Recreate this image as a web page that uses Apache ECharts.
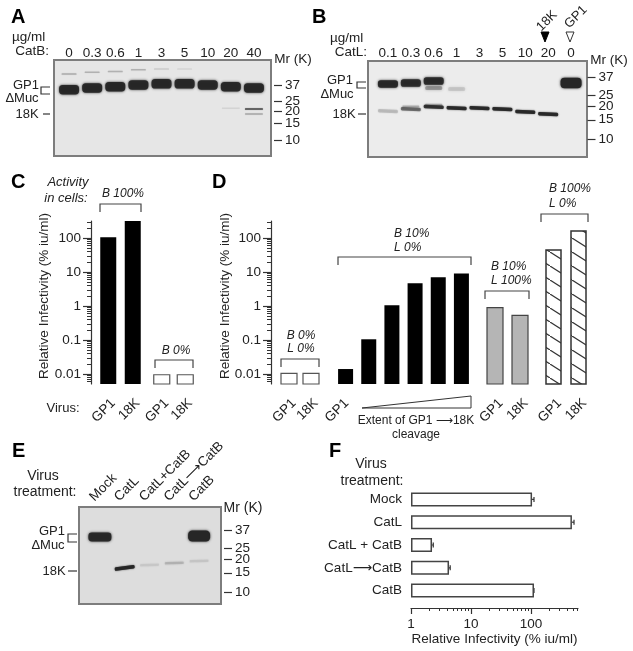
<!DOCTYPE html>
<html><head><meta charset="utf-8">
<style>html,body{margin:0;padding:0;background:#fff}#c{width:633px;height:651px}</style>
<script src="https://cdn.jsdelivr.net/npm/echarts@6/dist/echarts.min.js"></script>
</head><body><div id="c"></div>
<script>
// ---------- data ----------
const lanesA = ['0','0.3','0.6','1','3','5','10','20','40'];
const gp1MrA = [33,34.5,35.5,37,38,38,37,35.5,34.5];
const upperMrA = [48,50,51,53,54,54];
const upperIntA = [.18,.16,.16,.16,.08,.04];
const lowerBandsA = [[8,20.9,.6],[8,18.6,.2],[7,21.3,.05]];
const mrTicks = [37,25,20,15,10];

const lanesB = ['0.1','0.3','0.6','1','3','5','10','20','0'];
const gp1BandsB = [[0,32,.95],[1,32.6,.9],[2,34,.9]];
const gp1UncutB = [[8,32.6,1]];
const gp1WeakB = [[2,29.3,.3],[3,28.7,.12]];
const k18MrB = [18,18.8,19.7,19.2,19.2,18.8,17.7,16.9];
const k18IntB = [.14,.45,.8,.9,.9,.9,.9,.9];
const k18UpperB = [[1,19.9,.2],[2,20.6,.2]];

const lanesE = ['Mock','CatL','CatL+CatB','CatL\u27f6CatB','CatB'];
const gp1BandsE = [[0,31.9,.95]];
const gp1UncutE = [[4,32.6,1]];
const k18BandE = [[1,16.6,.95]];
const k18FaintE = [[2,17.7,.07],[3,18.4,.14],[4,19.2,.08]];

const groupC1 = ['GP1','18K'], valsC1 = [105,316];
const groupC2 = ['GP1','18K'], valsC2 = [0.0095,0.0095];
const groupD1 = ['GP1','18K'], valsD1 = [0.0105,0.0105];
const groupD2 = ['GP1','','','','',''], valsD2 = [0.014,0.105,1.05,4.7,7,9];
const groupD3 = ['GP1','18K'], valsD3 = [0.9,0.53];
const groupD4 = ['GP1','18K'], valsD4 = [44,160];
const logTicks = [0.01,0.1,1,10,100];
const logMinor = [0.006,0.007,0.008,0.009,0.02,0.03,0.04,0.05,0.06,0.07,0.08,0.09,0.2,0.3,0.4,0.5,0.6,0.7,0.8,0.9,2,3,4,5,6,7,8,9,20,30,40,50,60,70,80,90,200,300];

const treatF = ['Mock','CatL','CatL + CatB','CatL\u27f6CatB','CatB'];
const valsF = [104,480,2.24,4.3,112];
const errF = [112,520,2.35,4.5,112];
const xTicksF = [1,10,100];
const xMinorF = [2,3,4,5,6,7,8,9,20,30,40,50,60,70,80,90,200,300,400,500,600];

// ---------- helpers ----------
const FONT = '"Liberation Sans", Arial, "DejaVu Sans", sans-serif';
const TXT = '#222';
const grid=[],xAxis=[],yAxis=[],series=[],graphic=[];
function addGrid(l,t,w,h){grid.push({left:l,top:t,width:w,height:h,containLabel:false});return grid.length-1;}
function T(x,y,s,o={}){graphic.push({type:'text',x,y,rotation:o.rot||0,silent:true,style:{text:s,fill:o.fill||TXT,
  font:`${o.italic?'italic ':''}${o.bold?'bold ':''}${o.size||13}px ${FONT}`,align:o.align||'center',verticalAlign:'middle'}});}
function P(points,o={}){graphic.push({type:o.fillC?'polygon':'polyline',silent:true,shape:{points},
  style:{stroke:o.stroke||'#333',lineWidth:o.lw||1,fill:o.fillC||null}});}
function gel(x,y,w,h,bg){graphic.push({type:'rect',silent:true,shape:{x,y,width:w,height:h},style:{fill:bg,stroke:'#7d7d7d',lineWidth:2}});}
function bracket(x1,x2,y,leg){P([[x1,y+leg],[x1,y],[x2,y],[x2,y+leg]],{stroke:'#444',lw:1.2});}
function bands(g,xi,yi,data,w,h,rot,blur){
  series.push({type:'custom',coordinateSystem:'cartesian2d',xAxisIndex:xi,yAxisIndex:yi,clip:false,silent:true,z:3,
    data,encode:{x:0,y:1},renderItem(p,api){
      const c=api.coord([api.value(0),api.value(1)]);
      return {type:'rect',x:c[0],y:c[1],rotation:rot||0,shape:{x:-w/2,y:-h/2,width:w,height:h,r:h/2.6},
        style:{fill:'#262626',opacity:api.value(2),shadowBlur:blur==null?2.5:blur,shadowColor:'#262626'}};
    }});
}
function blot(l,t,w,h,lanes,minMr,maxMr,offset,showLabels){
  const g=addGrid(l,t,w,h);
  xAxis.push({type:'category',gridIndex:g,data:lanes,position:'top',axisLine:{show:false},axisTick:{show:false},
    axisLabel:{show:showLabels,fontFamily:FONT,fontSize:13.5,color:TXT,margin:t-60,interval:0}});
  yAxis.push({type:'log',gridIndex:g,position:'right',offset,min:minMr,max:maxMr,logBase:10,splitLine:{show:false},axisLine:{show:false},
    axisTick:{show:true,length:8,inside:false,customValues:mrTicks,lineStyle:{color:'#333',width:1.2}},
    axisLabel:{show:true,fontFamily:FONT,fontSize:13.5,color:TXT,margin:11,customValues:mrTicks,formatter:v=>String(Math.round(v))},
    minorTick:{show:false},minorSplitLine:{show:false}});
  return {g,xi:xAxis.length-1,yi:yAxis.length-1};
}
const LOGMIN=0.00508,LOGMAX=316.2;
// hatch tile for panel D
const tile=document.createElement('canvas');tile.width=22;tile.height=14;
(function(){const c=tile.getContext('2d');c.fillStyle='#fff';c.fillRect(0,0,22,14);c.strokeStyle='#333';c.lineWidth=1.2;
  c.beginPath();c.moveTo(-2,-1.27);c.lineTo(24,15.27);c.stroke();})();
function barGroup(l,w,names,vals,style,bw,labelDx,showAxis,axisOffset){
  const g=addGrid(l,221,w,163);
  xAxis.push({type:'category',gridIndex:g,data:names.map((n,i)=>i),axisLine:{show:false},axisTick:{show:false},axisLabel:{show:false}});
  const xi=xAxis.length-1;
  yAxis.push({type:'log',gridIndex:g,position:'left',offset:axisOffset||0,min:LOGMIN,max:LOGMAX,logBase:10,show:true,
    splitLine:{show:false},minorTick:{show:false},minorSplitLine:{show:false},
    axisLine:{show:!!showAxis,lineStyle:{color:'#333',width:1.2}},
    axisTick:{show:!!showAxis,length:8,customValues:logTicks,lineStyle:{color:'#333',width:1.2}},
    axisLabel:{show:!!showAxis,fontFamily:FONT,fontSize:13.5,color:TXT,margin:10,customValues:logTicks,formatter:v=>String(+v.toPrecision(2))}});
  const yi=yAxis.length-1;
  // bars rise from the bottom of the log axis
  series.push({type:'custom',xAxisIndex:xi,yAxisIndex:yi,silent:true,clip:false,data:vals.map((v,i)=>[i,v]),encode:{x:0,y:1},
    renderItem(p,api){
      const top=api.coord([api.value(0),api.value(1)]),bot=api.coord([api.value(0),LOGMIN]);
      return {type:'rect',shape:{x:top[0]-bw/2,y:top[1],width:bw,height:bot[1]-top[1]},
        style:{fill:style.fill,stroke:style.stroke||null,lineWidth:style.lw||0}};
    }});
  if(showAxis){
    yAxis.push({type:'log',gridIndex:g,position:'left',offset:axisOffset||0,min:LOGMIN,max:LOGMAX,logBase:10,
      splitLine:{show:false},minorTick:{show:false},axisLine:{show:false},axisLabel:{show:false},
      axisTick:{show:true,length:4,customValues:logMinor,lineStyle:{color:'#333',width:1}}});
  }
  // rotated category labels through the axis scale
  series.push({type:'custom',xAxisIndex:xi,yAxisIndex:yi,clip:false,silent:true,
    data:names.map((n,i)=>[i,1]),encode:{x:0,y:1},renderItem(p,api){
      const i=api.value(0),c=api.coord([i,1]);const s=names[i];if(!s)return null;
      return {type:'text',x:c[0]+labelDx,y:401,rotation:Math.PI/4,style:{text:s,align:'right',verticalAlign:'middle',font:`13.5px ${FONT}`,fill:TXT}};
    }});
}

// ---------- panel A ----------
gel(54,60,217,96,'#e6e6e6');
const A=blot(57.5,60,208,96,lanesA,6.83,67,8.5,true);
bands(A.g,A.xi,A.yi,gp1MrA.map((m,i)=>[i,m,.95]),20,9.5);
bands(A.g,A.xi,A.yi,upperMrA.map((m,i)=>[i,m,upperIntA[i]]),15,1.5,0,1);
bands(A.g,A.xi,A.yi,lowerBandsA,18,1.5,0,1);
T(12,37,'\u00b5g/ml',{align:'left',size:13.5});T(49,51,'CatB:',{align:'right',size:13.5});
T(293,59,'Mr (K)',{size:13.5});T(26,85,'GP1',{size:13});T(22,98,'\u0394Muc',{size:13});T(27,114,'18K',{size:13});
P([[50,87],[41,87],[41,94],[50,94]],{lw:1.2});P([[43,114],[50,114]],{lw:1.2});

// ---------- panel B ----------
gel(368,61,219,96,'#ececec');
const B=blot(376.5,61,206,96,lanesB,6.83,51.9,5,true);
bands(B.g,B.xi,B.yi,gp1BandsB,20,7.5);
bands(B.g,B.xi,B.yi,gp1UncutB,21,10.5);
bands(B.g,B.xi,B.yi,gp1WeakB,17,4,0,3);
bands(B.g,B.xi,B.yi,k18MrB.map((m,i)=>[i,m,k18IntB[i]]),20,3.5,-0.05,1.5);
bands(B.g,B.xi,B.yi,k18UpperB,17,2,0,1.5);
T(330,38,'\u00b5g/ml',{align:'left',size:13.5});T(367,52,'CatL:',{align:'right',size:13.5});
T(609,60,'Mr (K)',{size:13.5});T(340,80,'GP1',{size:13});T(337,94,'\u0394Muc',{size:13});T(344,114,'18K',{size:13});
P([[366,82],[357,82],[357,88],[366,88]],{lw:1.2});P([[358,114],[366,114]],{lw:1.2});
T(547,21,'18K',{size:13,rot:Math.PI/4});T(576,17,'GP1',{size:13,rot:Math.PI/4});
P([[541,32],[549,32],[545,42]],{fillC:'#000',stroke:'#000'});P([[566,32],[574,32],[570,42]],{fillC:'#fff',stroke:'#333'});

// ---------- panel C ----------
barGroup(96,49,groupC1,valsC1,{fill:'#000'},16,5,true,5);
barGroup(150,47,groupC2,valsC2,{fill:'#fff',stroke:'#555',lw:1.2},16,5);
T(44,296,'Relative Infectivity (% iu/ml)',{size:13.5,rot:Math.PI/2});
T(68,182,'Activity',{italic:true,size:13});T(66,198,'in cells:',{italic:true,size:13});
T(123,194,'B 100%',{italic:true,size:12});T(176,351,'B 0%',{italic:true,size:12});
bracket(100,141,204,8);bracket(155,193,360,8);
T(63,408,'Virus:',{size:13});

// ---------- panel D ----------
barGroup(278,44,groupD1,valsD1,{fill:'#fff',stroke:'#555',lw:1.2},16,5,true,7);
barGroup(334,139,groupD2,valsD2,{fill:'#000'},15,1);
barGroup(482.5,50,groupD3,valsD3,{fill:'#b5b5b5',stroke:'#444',lw:1.2},16,6);
barGroup(541,50,groupD4,valsD4,{fill:{image:tile,repeat:'repeat'},stroke:'#333',lw:1.5},15,6);
T(225,296,'Relative Infectivity (% iu/ml)',{size:13.5,rot:Math.PI/2});
T(301,336,'B 0%',{italic:true,size:12});T(301,349,'L 0%',{italic:true,size:12});bracket(281,319,359,8);
T(394,234,'B 10%',{italic:true,size:12,align:'left'});T(394,248,'L 0%',{italic:true,size:12,align:'left'});bracket(338,471,257,8);
T(491,267,'B 10%',{italic:true,size:12,align:'left'});T(491,281,'L 100%',{italic:true,size:12,align:'left'});bracket(485,529,291,8);
T(549,189,'B 100%',{italic:true,size:12,align:'left'});T(549,204,'L 0%',{italic:true,size:12,align:'left'});bracket(541,588,214,8);
P([[362,408],[471,396],[471,408],[362,408]],{lw:1});
T(416,421,'Extent of GP1 \u27f618K',{size:12});T(416,435,'cleavage',{size:12});

// ---------- panel E ----------
gel(79,507,142,97,'#dddddd');
const E=blot(87.5,507,124,97,lanesE,7.75,60.2,12.5,false);
bands(E.g,E.xi,E.yi,gp1BandsE,23,9);
bands(E.g,E.xi,E.yi,gp1UncutE,22,11);
bands(E.g,E.xi,E.yi,k18BandE,20,3.5,0.13,1.5);
bands(E.g,E.xi,E.yi,k18FaintE,19,2.5,0.03,2);
series.push({type:'custom',xAxisIndex:E.xi,yAxisIndex:E.yi,clip:false,silent:true,data:lanesE.map((n,i)=>[i,30]),encode:{x:0,y:1},
  renderItem(p,api){const i=api.value(0),c=api.coord([i,30]);
    return {type:'text',x:c[0]-8,y:499,rotation:Math.PI/4,style:{text:lanesE[i],align:'left',verticalAlign:'middle',font:`13.5px ${FONT}`,fill:TXT}};}});
T(43,476,'Virus',{size:14});T(45,492,'treatment:',{size:14});
T(243,508,'Mr (K)',{size:14});T(52,531,'GP1',{size:13});T(48,545,'\u0394Muc',{size:13});T(54,571,'18K',{size:13});
P([[77,534],[68,534],[68,542],[77,542]],{lw:1.2});P([[68,571],[77,571]],{lw:1.2});

// ---------- panel F ----------
const gF=addGrid(411,488,167,114);
xAxis.push({type:'log',gridIndex:gF,position:'bottom',offset:6,min:1,max:606,logBase:10,splitLine:{show:false},minorTick:{show:false},
  axisLine:{show:true,lineStyle:{color:'#333',width:1.2}},axisTick:{show:true,length:6,customValues:xTicksF,lineStyle:{color:'#333',width:1.2}},
  axisLabel:{fontFamily:FONT,fontSize:13.5,color:TXT,margin:9,customValues:xTicksF,formatter:v=>String(Math.round(v))},
  name:'Relative Infectivity (% iu/ml)',nameLocation:'middle',nameGap:24,nameTextStyle:{fontFamily:FONT,fontSize:13.5,color:TXT}});
const xF=xAxis.length-1;
xAxis.push({type:'log',gridIndex:gF,position:'bottom',offset:6,min:1,max:606,logBase:10,splitLine:{show:false},minorTick:{show:false},
  axisLine:{show:false},axisLabel:{show:false},axisTick:{show:true,length:3,customValues:xMinorF,lineStyle:{color:'#333',width:1}}});
yAxis.push({type:'category',gridIndex:gF,inverse:true,data:treatF,axisLine:{show:false},axisTick:{show:false},
  axisLabel:{fontFamily:FONT,fontSize:13.5,color:TXT,margin:9,interval:0}});
const yF=yAxis.length-1;
series.push({type:'bar',xAxisIndex:xF,yAxisIndex:yF,data:valsF,barWidth:14,silent:true,itemStyle:{color:'#fff',borderColor:'#444',borderWidth:1.5}});
series.push({type:'custom',xAxisIndex:xF,yAxisIndex:yF,silent:true,clip:false,data:errF.map((e,i)=>[e,i,valsF[i]]),encode:{x:0,y:1},
  renderItem(p,api){const a=api.coord([api.value(2),api.value(1)]),b=api.coord([api.value(0),api.value(1)]);
    return {type:'group',children:[
      {type:'line',shape:{x1:a[0],y1:a[1],x2:b[0],y2:b[1]},style:{stroke:'#333',lineWidth:1.2}},
      {type:'line',shape:{x1:b[0],y1:b[1]-2.5,x2:b[0],y2:b[1]+2.5},style:{stroke:'#333',lineWidth:1.2}}]};}});
T(371,464,'Virus',{size:14});T(372,481,'treatment:',{size:14});

// panel letters
[['A',11,17],['B',312,17],['C',11,182],['D',212,182],['E',12,451],['F',329,451]].forEach(([s,x,y])=>T(x,y,s,{bold:true,size:20,fill:'#000',align:'left'}));

const chart=echarts.init(document.getElementById('c'),null,{renderer:'canvas'});
chart.setOption({animation:false,backgroundColor:'#fff',grid,xAxis,yAxis,series,graphic:{elements:graphic}});
</script></body></html>
